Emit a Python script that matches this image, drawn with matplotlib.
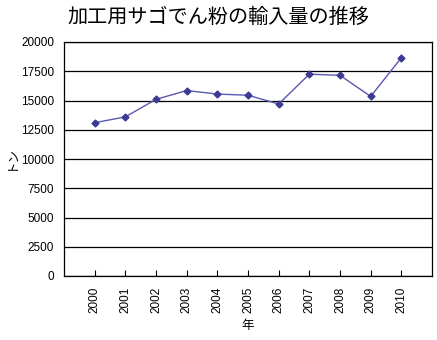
import matplotlib; matplotlib.use("Agg")
import matplotlib.pyplot as plt

plt.rcParams['font.family'] = ['Noto Sans CJK JP', 'DejaVu Sans']

years = [2000, 2001, 2002, 2003, 2004, 2005, 2006, 2007, 2008, 2009, 2010]
tons = [13100, 13600, 15100, 15850, 15550, 15450, 14700, 17250, 17150, 15350, 18650]
yticks = [0, 2500, 5000, 7500, 10000, 12500, 15000, 17500, 20000]

fig = plt.figure(figsize=(4.37, 3.40), dpi=100)
ax = fig.add_axes([64/437, 1 - 276/340, 368/437, 234/340])

ax.plot(years, tons, color="#5a58b0", lw=1.0, marker="D", ms=3.5,
        mfc="#3c3a94", mec="#3c3a94", zorder=3)

ax.set_xlim(1999, 2011)
ax.set_ylim(0, 20000)
ax.set_yticks(yticks)
ax.set_xticks(years)
ax.grid(axis="y", color="black", lw=0.9)
ax.tick_params(axis="y", length=0, labelsize=8.5, pad=7)
ax.tick_params(axis="x", direction="in", length=4, labelsize=8.5, labelrotation=90, pad=8)
for lbl in ax.get_xticklabels() + ax.get_yticklabels():
    lbl.set_fontfamily("Liberation Sans")
for s in ax.spines.values():
    s.set_linewidth(0.9)

ax.set_xlabel("年", fontsize=9, labelpad=4)
fig.text(11/437, 1 - 158/340, "トン", fontsize=9, rotation=90, ha="center", va="center")
fig.text(218/437, 1 - 17/340, "加工用サゴでん粉の輸入量の推移", fontsize=14.5,
         ha="center", va="center")

fig.savefig("out.png", dpi=100)
